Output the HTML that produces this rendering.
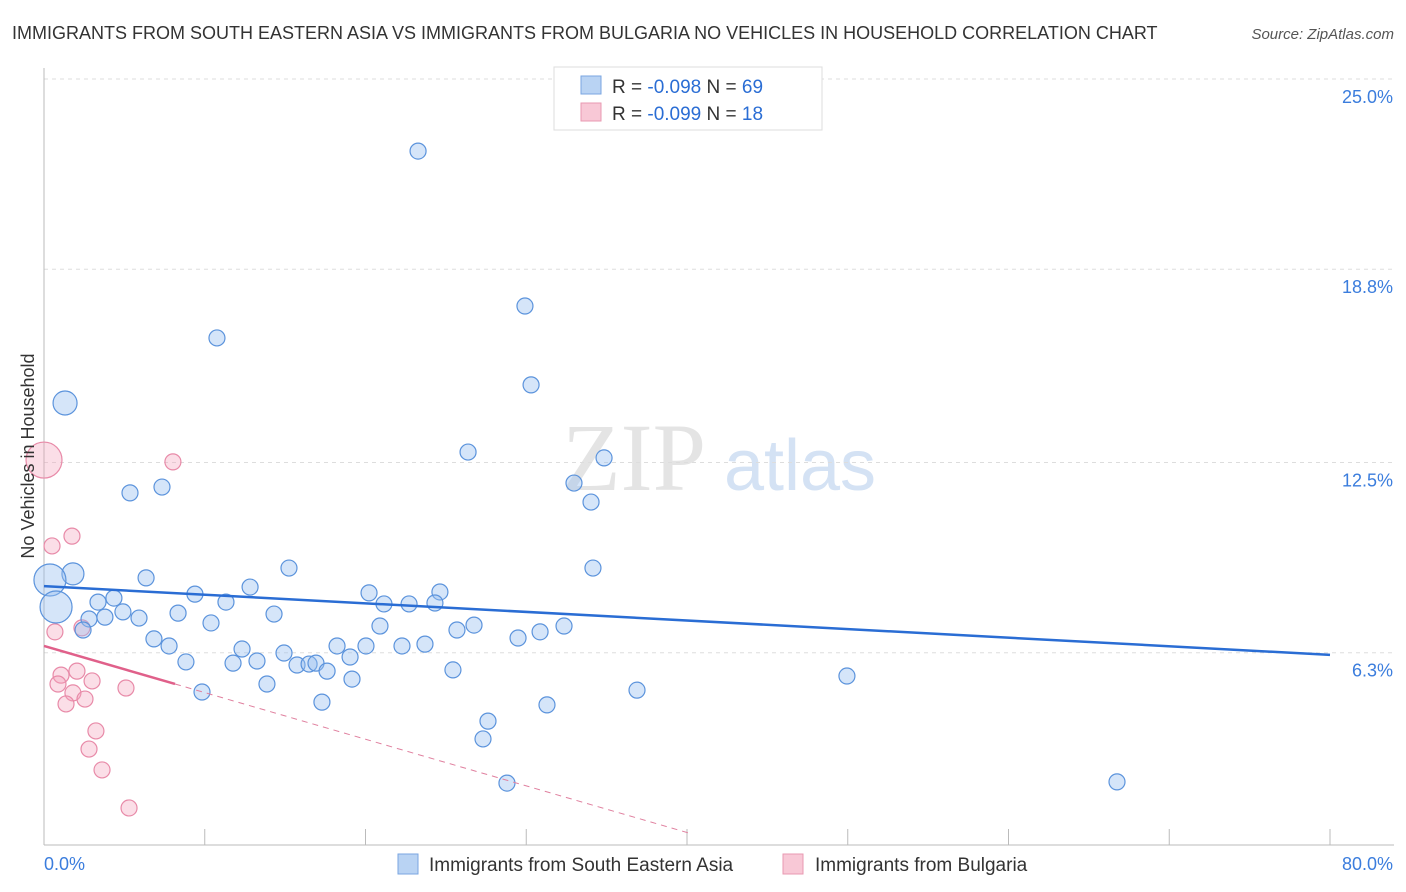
<!DOCTYPE html>
<html><head><meta charset="utf-8"><style>
body{margin:0;background:#fff;font-family:"Liberation Sans",sans-serif;}
svg{display:block}
</style></head><body>
<svg id="chart" width="1406" height="892" xmlns="http://www.w3.org/2000/svg">
<text x="12" y="39" font-size="18" fill="#333">IMMIGRANTS FROM SOUTH EASTERN ASIA VS IMMIGRANTS FROM BULGARIA NO VEHICLES IN HOUSEHOLD CORRELATION CHART</text>
<text x="1394" y="39" font-size="15" fill="#555" font-style="italic" text-anchor="end">Source: ZipAtlas.com</text>
<text x="634" y="490" font-size="96" fill="#e4e4e4" font-family="Liberation Serif,serif" text-anchor="middle">ZIP</text>
<text x="800" y="490" font-size="72" fill="#d4e2f4" text-anchor="middle">atlas</text>
<g id="grid"></g>
<g id="axes"></g>
<g id="marks"></g>
<text transform="translate(34,456) rotate(-90)" font-size="18" fill="#333" text-anchor="middle">No Vehicles in Household</text>
<g>
<rect x="554" y="67" width="268" height="63" fill="#fff" stroke="#ddd"/>
<rect x="581" y="76" width="20" height="18" fill="#b9d3f3" stroke="#7aa6e0"/>
<text x="612" y="93" font-size="19" fill="#333">R = <tspan fill="#2a6dd4">-0.098</tspan>   N = <tspan fill="#2a6dd4">69</tspan></text>
<rect x="581" y="103" width="20" height="18" fill="#f8c8d6" stroke="#e899b1"/>
<text x="612" y="120" font-size="19" fill="#333">R = <tspan fill="#2a6dd4">-0.099</tspan>   N =  <tspan fill="#2a6dd4">18</tspan></text>
</g>
<g>
<rect x="398" y="854" width="20" height="20" fill="#b9d3f3" stroke="#7aa6e0"/>
<text x="429" y="871" font-size="19" fill="#333">Immigrants from South Eastern Asia</text>
<rect x="783" y="854" width="20" height="20" fill="#f8c8d6" stroke="#e899b1"/>
<text x="815" y="871" font-size="19" fill="#333">Immigrants from Bulgaria</text>
</g>
</svg>
<script>
const blueX=[23.27,29.92,10.76,30.30,1.31,26.38,34.84,32.97,5.35,7.34,34.03,34.15,15.24,6.35,1.80,0.37,0.75,3.36,4.35,4.91,2.80,3.79,5.91,12.82,9.39,11.32,8.34,14.31,20.22,24.63,21.15,22.71,24.32,10.39,20.90,26.75,25.69,32.35,30.86,29.49,6.84,7.78,2.43,12.32,14.93,18.23,20.03,22.27,23.70,8.83,11.76,13.25,15.74,16.49,16.92,17.61,19.04,25.44,19.16,13.87,9.83,36.89,49.95,17.29,31.29,27.62,27.31,28.80,66.75];
const blueY=[22.65,17.60,16.56,15.03,14.44,12.84,12.65,11.83,11.51,11.70,11.21,9.06,9.06,8.74,8.87,8.67,7.79,7.95,8.08,7.63,7.40,7.46,7.43,8.44,8.21,7.95,7.59,7.56,8.25,8.28,7.89,7.89,7.92,7.27,7.17,7.20,7.04,7.17,6.98,6.78,6.75,6.52,7.04,6.42,6.29,6.52,6.52,6.52,6.58,6.00,5.96,6.03,5.90,5.93,5.96,5.70,6.16,5.74,5.44,5.28,5.02,5.08,5.54,4.69,4.60,4.07,3.49,2.05,2.09];
const blueBig={4:12,14:11,15:16,16:16};
const pinkX=[0,8.02,1.74,0.50,0.68,2.36,2.05,1.06,2.99,0.87,1.80,2.55,1.37,5.10,3.23,2.80,3.61,5.29];
const pinkY=[12.58,12.52,10.10,9.78,6.98,7.11,5.70,5.57,5.38,5.28,4.99,4.79,4.63,5.15,3.75,3.16,2.48,1.24];
const pinkBig={0:18};
const blueTrend=[8.47,6.23];
const pinkTrend=[6.52,-0.152];
const yTicks=[25.0,18.8,12.5,6.3];
const yTickLabels=["25.0%","18.8%","12.5%","6.3%"];
const xTicks=[0,10,20,30,40,50,60,70,80];

const NS="http://www.w3.org/2000/svg";
const X=v=>44+v/80*1286;
const Y=v=>846-v/25*767;
function mk(tag,attrs,parent){const e=document.createElementNS(NS,tag);for(const k in attrs)e.setAttribute(k,attrs[k]);parent.appendChild(e);return e;}
const grid=document.getElementById('grid'),axes=document.getElementById('axes'),marks=document.getElementById('marks');
yTicks.forEach((t,i)=>{
 const l=mk('line',{x1:44,x2:1394,y1:Y(t),y2:Y(t),stroke:'#ddd','stroke-dasharray':'4 4'},grid);
 
 
 const tx=mk('text',{x:1393,y:Y(t)+24,'font-size':18,fill:'#3b7ddd','text-anchor':'end'},grid);
 tx.textContent=yTickLabels[i];
 
 
});
const ya=mk('line',{x1:44,x2:44,y1:68,y2:845,stroke:'#bbb'},axes);


const xa=mk('line',{x1:44,x2:1394,y1:845,y2:845,stroke:'#bbb'},axes);


xTicks.forEach(t=>{
 const l=mk('line',{x1:X(t),x2:X(t),y1:829,y2:845,stroke:'#bbb'},axes);
 
 
});
const xl0=mk('text',{x:44,y:870,'font-size':18,fill:'#3b7ddd'},axes);xl0.textContent='0.0%';


const xl1=mk('text',{x:1393,y:870,'font-size':18,fill:'#3b7ddd','text-anchor':'end'},axes);xl1.textContent='80.0%';



pinkX.forEach((v,i)=>{
 const c=mk('circle',{cx:X(v),cy:Y(pinkY[i]),r:pinkBig[i]||8,fill:'rgba(244,160,185,0.35)',stroke:'#e88aa8','stroke-width':1.2},marks);
 
 
});
blueX.forEach((v,i)=>{
 const c=mk('circle',{cx:X(v),cy:Y(blueY[i]),r:blueBig[i]||8,fill:'rgba(150,190,240,0.4)',stroke:'#5b93dc','stroke-width':1.2},marks);
 
 
});
const bt=mk('line',{x1:X(0),y1:Y(blueTrend[0]),x2:X(80),y2:Y(blueTrend[1]),stroke:'#2a6dd4','stroke-width':2.5},marks);


const pe=8.15,pd=40.2;
const ps=mk('line',{x1:X(0),y1:Y(pinkTrend[0]),x2:X(pe),y2:Y(pinkTrend[0]+pinkTrend[1]*pe),stroke:'#e0608a','stroke-width':2.5},marks);


const pdl=mk('line',{x1:X(pe),y1:Y(pinkTrend[0]+pinkTrend[1]*pe),x2:X(pd),y2:Y(pinkTrend[0]+pinkTrend[1]*pd),stroke:'#e0809f','stroke-width':1,'stroke-dasharray':'6 5'},marks);


</script>
</body></html>
